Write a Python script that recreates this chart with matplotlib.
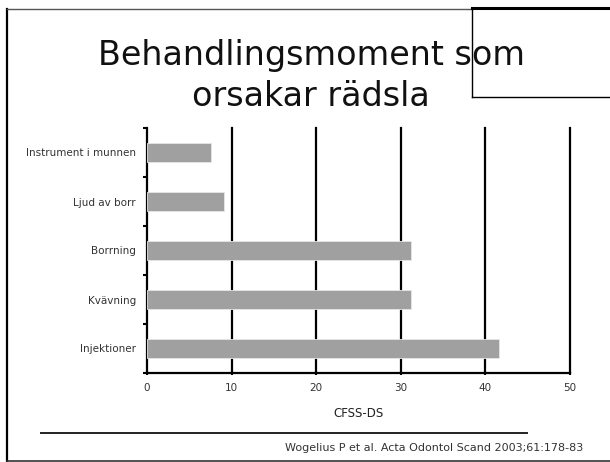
import numpy as np
import matplotlib
matplotlib.use("Agg")
from matplotlib import pyplot as plt
from matplotlib.lines import Line2D

# data
categories = ["Injektioner", "Kvävning", "Borrning", "Ljud av borr", "Instrument i munnen"]
values = [41.6, 31.2, 31.2, 9.1, 7.6]
xticks = [0, 10, 20, 30, 40, 50]

W, H = 610, 462
fig = plt.figure(figsize=(W / 100, H / 100), dpi=100)

def fx(px):
    return px / W

def fy(py):
    return 1 - py / H

# slide frame
fig.add_artist(Line2D([fx(7), fx(7)], [fy(9), fy(461)], color="black", lw=1.6))
fig.add_artist(Line2D([fx(7), fx(610)], [fy(461), fy(461)], color="#333333", lw=1.2))
fig.add_artist(Line2D([fx(7), fx(472)], [fy(9), fy(9)], color="#555555", lw=1.0))
fig.add_artist(Line2D([fx(472), fx(610)], [fy(8), fy(8)], color="black", lw=2.2))
fig.add_artist(Line2D([fx(472), fx(472)], [fy(8), fy(97)], color="black", lw=1.0))
fig.add_artist(Line2D([fx(472), fx(610)], [fy(97), fy(97)], color="black", lw=1.0))

# title
fig.text(fx(311), fy(56), "Behandlingsmoment som", ha="center", va="center",
         fontsize=24, family="DejaVu Sans", color="#111111")
fig.text(fx(311), fy(97), "orsakar rädsla", ha="center", va="center",
         fontsize=24, family="DejaVu Sans", color="#111111")

# chart
ax = fig.add_axes([fx(147), fy(373), fx(570) - fx(147), (373 - 128) / H])
y = np.arange(len(categories))
ax.barh(y, values, height=0.4, color="#a0a0a0", edgecolor="#e6e6e6", lw=0.6, zorder=3)
ax.set_xlim(0, 50)
ax.set_ylim(-0.5, len(categories) - 0.5)
ax.set_xticks(xticks)
ax.set_xticklabels([str(v) for v in xticks], fontsize=7.5, color="#333333",
                   family="DejaVu Sans")
ax.set_yticks(y)
ax.set_yticklabels(categories, fontsize=7.5, family="DejaVu Sans", color="#333333")
ax.set_yticks(np.arange(-0.5, len(categories)), minor=True)
ax.tick_params(axis="y", which="major", length=0, pad=8)
ax.tick_params(axis="y", which="minor", length=3, width=1.5, direction="out")
ax.tick_params(axis="x", length=3, width=1.5, direction="inout", pad=6)
for v in xticks[1:]:
    ax.axvline(v, color="black", lw=1.6, zorder=2, clip_on=False)
for s in ["top", "right"]:
    ax.spines[s].set_visible(False)
ax.spines["left"].set_linewidth(1.6)
ax.spines["bottom"].set_linewidth(1.6)
ax.set_xlabel("CFSS-DS", fontsize=8.5, family="DejaVu Sans", color="#222222", labelpad=10)

# bottom rule and citation
fig.add_artist(Line2D([fx(41), fx(527)], [fy(433), fy(433)], color="#222222", lw=1.4))
fig.text(fx(583), fy(448), "Wogelius P et al. Acta Odontol Scand 2003;61:178-83",
         ha="right", va="center", fontsize=8, family="DejaVu Sans", color="#333333")

fig.savefig("out.png", dpi=100)
